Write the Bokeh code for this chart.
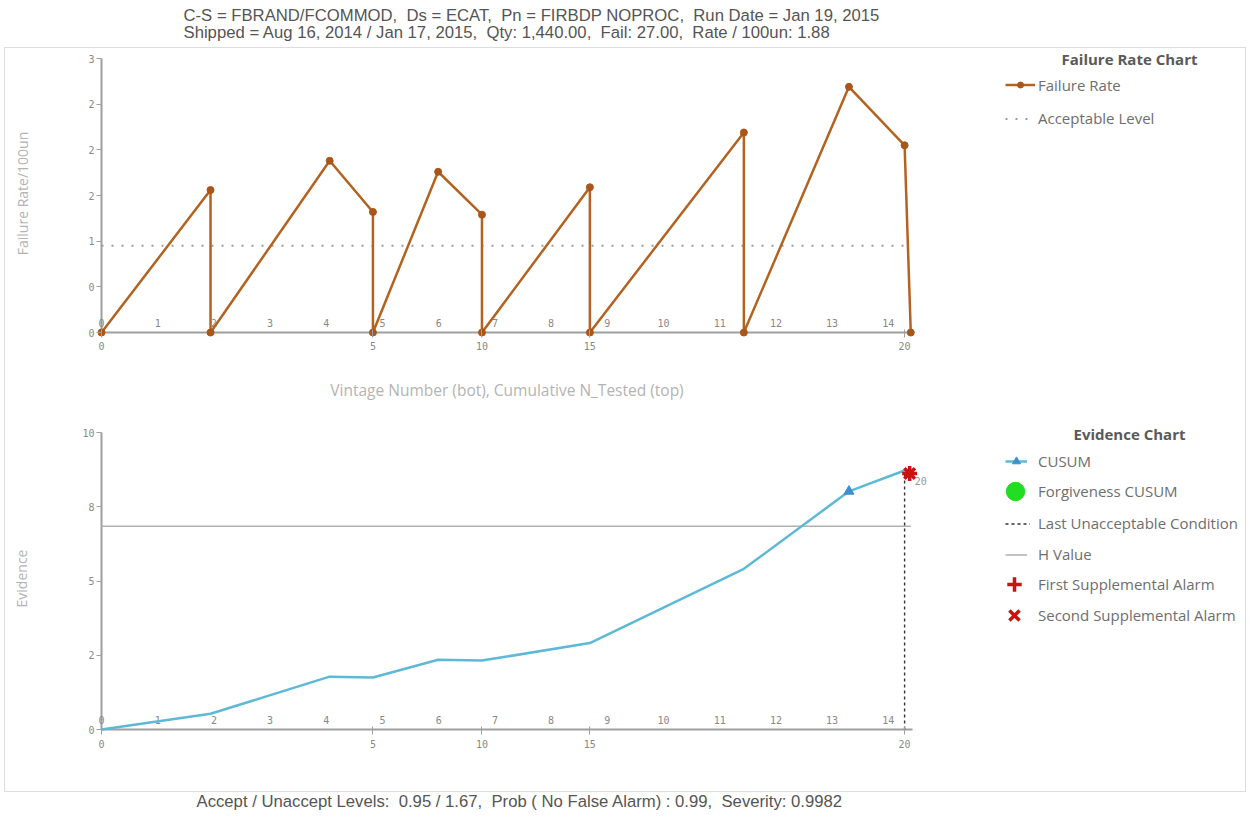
from bokeh.plotting import figure
from bokeh.models import Range1d, LinearAxis, FixedTicker, Legend, LegendItem, Label, Spacer
from bokeh.layouts import column, row
from bokeh.embed import file_html
from bokeh.resources import INLINE
from bokeh.core.properties import value

# ---------------- data ----------------
NB = "\u00a0"
title_line1 = f"C-S = FBRAND/FCOMMOD,{NB} Ds = ECAT,{NB} Pn = FIRBDP NOPROC,{NB} Run Date = Jan 19, 2015"
title_line2 = f"Shipped = Aug 16, 2014 / Jan 17, 2015,{NB} Qty: 1,440.00,{NB} Fail: 27.00,{NB} Rate / 100un: 1.88"
caption = f"Accept / Unaccept Levels:{NB} 0.95 / 1.67,{NB} Prob ( No False Alarm) : 0.99,{NB} Severity: 0.9982"
x_title = "Vintage Number (bot), Cumulative N_Tested (top)"

vintages = list(range(15))
vintage_labels = [str(v) for v in vintages]
cum_tick_pos = [0, 4.83, 6.77, 8.69, 14.29]
cum_tick_labels = ["0", "5", "10", "15", "20"]

fr_x = [0, 1.94, 1.94, 4.06, 4.83, 4.83, 5.99, 6.77, 6.77, 8.69, 8.69, 11.43, 11.43, 13.30, 14.29, 14.40]
fr_y = [0, 1.56, 0, 1.88, 1.32, 0, 1.76, 1.29, 0, 1.59, 0, 2.19, 0, 2.69, 2.05, 0]
accept_level = 0.95
fr_yticks = [0, 0.5, 1, 1.5, 2, 2.5, 3]
fr_ytick_labels = ["0", "0", "1", "2", "2", "2", "3"]

cusum_x = [0, 1.94, 4.06, 4.83, 5.99, 6.77, 8.69, 11.43, 13.30, 14.29]
cusum_y = [0, 0.53, 1.78, 1.75, 2.35, 2.32, 2.91, 5.41, 8.02, 8.72]
cusum_mark_x = [13.30]
cusum_mark_y = [8.02]
h_value = 6.84
ev_yticks = [0, 2.5, 5, 7.5, 10]
ev_ytick_labels = ["0", "2", "5", "8", "10"]
forg_x = [float("nan")]      # no forgiveness CUSUM values in this run
forg_y = [float("nan")]
luc_x = [14.29]
luc_y0 = [0]
luc_y1 = [8.72]
alarm1_x = [14.38]
alarm1_y = [8.62]
alarm2_x = [14.38]
alarm2_y = [8.62]
alarm_label = ["20"]

# ---------------- geometry (page px) ----------------
W = 1240                  # inner width of the framed box (x 5..1245)
PX = 56.2                 # px per vintage unit
X0 = 101                  # px of x = 0
PAD = 5
FL = X0 - PAD             # frame left
FR = 1244                 # frame right
x_range = Range1d(-PAD / PX, (FR - X0) / PX)
x_axis_end = (912 - X0) / PX
BL = FL - 5
BR = 5 + W - FR

TICK_FONT = "DejaVu Sans Mono"
TXT_FONT = "Open Sans"
AX_COL = "#9f9f9f"
LBL_COL = "#888888"
AXLBL_COL = "#b4b4b4"
LEG_SIZE = "15px"


def style_axes(xax, yax):
    for ax in (xax, yax):
        ax.axis_line_color = None
        ax.major_tick_line_color = AX_COL
        ax.major_tick_line_width = 1
        ax.major_label_text_font = TICK_FONT
        ax.major_label_text_font_size = "10px"
        ax.major_label_text_color = LBL_COL
        ax.minor_tick_line_color = None
        ax.axis_label_text_font = TXT_FONT
        ax.axis_label_text_font_size = "14px"
        ax.axis_label_text_font_style = "normal"
        ax.axis_label_text_color = AXLBL_COL
    yax.major_tick_out = 0
    yax.major_tick_in = PAD
    yax.major_label_standoff = 2
    xax.major_tick_out = 0
    xax.major_tick_in = PAD + 3


def base_fig(h, top_b, bot_b, y_range):
    p = figure(width=W, height=h, x_range=x_range, y_range=y_range,
               output_backend="svg", toolbar_location=None,
               x_axis_type=None, y_axis_type=None,
               min_border_left=BL, min_border_right=BR,
               min_border_top=top_b, min_border_bottom=bot_b)
    p.grid.visible = False
    p.outline_line_color = None
    p.background_fill_color = "white"
    p.border_fill_color = "white"
    return p


def axis_lines(p, y_top):
    p.line(x=[0, x_axis_end], y=[0, 0], line_color=AX_COL, line_width=2.2)
    p.line(x=[0, 0], y=[0, y_top], line_color=AX_COL, line_width=2)


def legend_row(p, frame_bottom, label, renderers, cy, left=1005, gw=28, gh=31, text_x=1038):
    p.add_layout(Legend(
        items=[LegendItem(label=label, renderers=renderers)],
        location=(left - FL, frame_bottom - (cy + gh / 2.0)),
        orientation="vertical", padding=0, margin=0, spacing=0,
        glyph_width=gw, glyph_height=gh, label_height=gh,
        label_standoff=max(0, text_x - left - gw),
        label_text_font=TXT_FONT, label_text_font_size=LEG_SIZE,
        label_text_color="#6e6e6e",
        background_fill_alpha=0, border_line_alpha=0))


def legend_title(p, x, y, txt):
    p.add_layout(Label(x=x, y=y, text=txt, text_align="center", text_baseline="middle",
                       text_font=TXT_FONT, text_font_size=LEG_SIZE,
                       text_font_style="bold", text_color="#5a5a5a"))


def text_fig(w, h):
    p = figure(width=w, height=h, x_range=Range1d(0, w), y_range=Range1d(0, h),
               output_backend="svg", toolbar_location=None,
               x_axis_type=None, y_axis_type=None,
               min_border=0, min_border_left=0, min_border_right=0,
               min_border_top=0, min_border_bottom=0)
    p.grid.visible = False
    p.outline_line_color = None
    return p


# ---------------- top chart (failure rate) ----------------
TY = (332 - 58) / 3.0
T_TOP, T_BOT = 49, 332 + PAD
TOP_END = 375
top = base_fig(TOP_END - 48, T_TOP - 48, TOP_END - T_BOT, Range1d(-PAD / TY, 3 + (58 - T_TOP) / TY))
xa = LinearAxis(ticker=FixedTicker(ticks=cum_tick_pos),
                major_label_overrides=dict(zip(cum_tick_pos, cum_tick_labels)),
                major_label_standoff=4)
ya = LinearAxis(ticker=FixedTicker(ticks=fr_yticks),
                major_label_overrides=dict(zip(fr_yticks, fr_ytick_labels)),
                axis_label="Failure Rate/100un", axis_label_standoff=53)
style_axes(xa, ya)
top.add_layout(xa, "below")
top.add_layout(ya, "left")
axis_lines(top, 3)

top.text(x=vintages, y=[0] * len(vintages), text=vintage_labels,
         text_align="center", text_baseline="middle", y_offset=-10,
         text_font=value(TICK_FONT), text_font_size="10px", text_color=LBL_COL)
acc_r = top.line(x=[min(fr_x), max(fr_x)], y=[accept_level, accept_level],
                 line_color="#9c9c9c", line_width=1.8, line_dash="2 8")
fr_line = top.line(fr_x, fr_y, line_color="#b4621f", line_width=2.5)
fr_pts = top.scatter(fr_x, fr_y, marker="circle", size=7,
                     fill_color="#a9561a", line_color="#a9561a")

legend_title(top, (1129 - X0) / PX, 3.0, "Failure Rate Chart")
legend_row(top, T_BOT, "Failure Rate", [fr_line, fr_pts], 87, gw=30, gh=15)
legend_row(top, T_BOT, "Acceptable Level", [acc_r], 118, gw=28)

# ---------------- x title strip between the charts (shares the x scale) ----------------
MID_H = 405 - TOP_END
mid = base_fig(MID_H, 0, 0, Range1d(0, MID_H))
mid.add_layout(Label(x=((X0 + 912) / 2.0 - X0) / PX, y=MID_H - (389 - TOP_END), text=x_title,
                     text_align="center", text_baseline="middle", text_font=TXT_FONT,
                     text_font_size="15.5px", text_color=AXLBL_COL))

# ---------------- bottom chart (evidence) ----------------
EY = (729 - 432) / 10.0
B_TOP, B_BOT = 422, 729 + PAD
bot = base_fig(386, B_TOP - 405, 791 - B_BOT, Range1d(-PAD / EY, 10 + (432 - B_TOP) / EY))
xb = LinearAxis(ticker=FixedTicker(ticks=cum_tick_pos),
                major_label_overrides=dict(zip(cum_tick_pos, cum_tick_labels)),
                major_label_standoff=5)
yb = LinearAxis(ticker=FixedTicker(ticks=ev_yticks),
                major_label_overrides=dict(zip(ev_yticks, ev_ytick_labels)),
                axis_label="Evidence", axis_label_standoff=48)
style_axes(xb, yb)
bot.add_layout(xb, "below")
bot.add_layout(yb, "left")
axis_lines(bot, 10)

bot.text(x=vintages, y=[0] * len(vintages), text=vintage_labels,
         text_align="center", text_baseline="middle", y_offset=-10,
         text_font=value(TICK_FONT), text_font_size="10px", text_color=LBL_COL)
h_r = bot.line(x=[min(cusum_x), max(fr_x)], y=[h_value, h_value],
               line_color="#b0b0b0", line_width=1.5)
luc_r = bot.segment(x0=luc_x, y0=luc_y0, x1=luc_x, y1=luc_y1,
                    line_color="#333333", line_width=1.4, line_dash="3 3")
cu_line = bot.line(cusum_x, cusum_y, line_color="#5db9d6", line_width=2.5)
cu_mark = bot.scatter(cusum_mark_x, cusum_mark_y, marker="triangle", size=10,
                      fill_color="#3d8fcf", line_color="#3d8fcf")
forg_r = bot.scatter(forg_x, forg_y, marker="circle", size=18,
                     fill_color="#22dd22", line_color="#22dd22")
a1_r = bot.scatter(alarm1_x, alarm1_y, marker="cross", size=15,
                   line_color="#cc1111", line_width=3.5)
a2_r = bot.scatter(alarm2_x, alarm2_y, marker="x", size=15,
                   line_color="#cc1111", line_width=3.5)
bot.add_layout(Label(x=alarm2_x[0], y=alarm2_y[0], text=alarm_label[0],
                     x_offset=5, y_offset=-12, text_font=TICK_FONT,
                     text_font_size="10px", text_color="#999999"))

legend_title(bot, (1129 - X0) / PX, (729 - 433) / EY, "Evidence Chart")
legend_row(bot, B_BOT, "CUSUM", [cu_line, cu_mark], 461, gw=22, gh=20)
legend_row(bot, B_BOT, "Forgiveness CUSUM", [forg_r], 491, left=992, gw=46, gh=46)
legend_row(bot, B_BOT, "Last Unacceptable Condition", [luc_r], 523, gw=25)
legend_row(bot, B_BOT, "H Value", [h_r], 554, gw=22)
legend_row(bot, B_BOT, "First Supplemental Alarm", [a1_r], 584, left=996, gw=36, gh=36)
legend_row(bot, B_BOT, "Second Supplemental Alarm", [a2_r], 615, left=996, gw=36, gh=36)

# ---------------- header / footer ----------------
HEAD_H = 47
head = text_fig(1248, HEAD_H)
for txt, yy in ((title_line1, 15), (title_line2, 32)):
    head.add_layout(Label(x=183, y=HEAD_H - yy, text=txt, text_align="left",
                          text_baseline="middle", text_font="Liberation Sans",
                          text_font_size="16.7px", text_color="#555555"))
FOOT_H = 24
FOOT_TOP = 48 + 357 + 386 + 1
foot = text_fig(1248, FOOT_H)
foot.add_layout(Label(x=196, y=FOOT_H - (801 - FOOT_TOP), text=caption, text_align="left",
                      text_baseline="middle", text_font="Liberation Sans",
                      text_font_size="16.7px", text_color="#555555"))

box = column(top, mid, bot, styles={"border": "1px solid #dddddd"})
page = column(head, row(Spacer(width=4, height=10), box), foot)

open("out.html", "w").write(file_html(page, INLINE))
